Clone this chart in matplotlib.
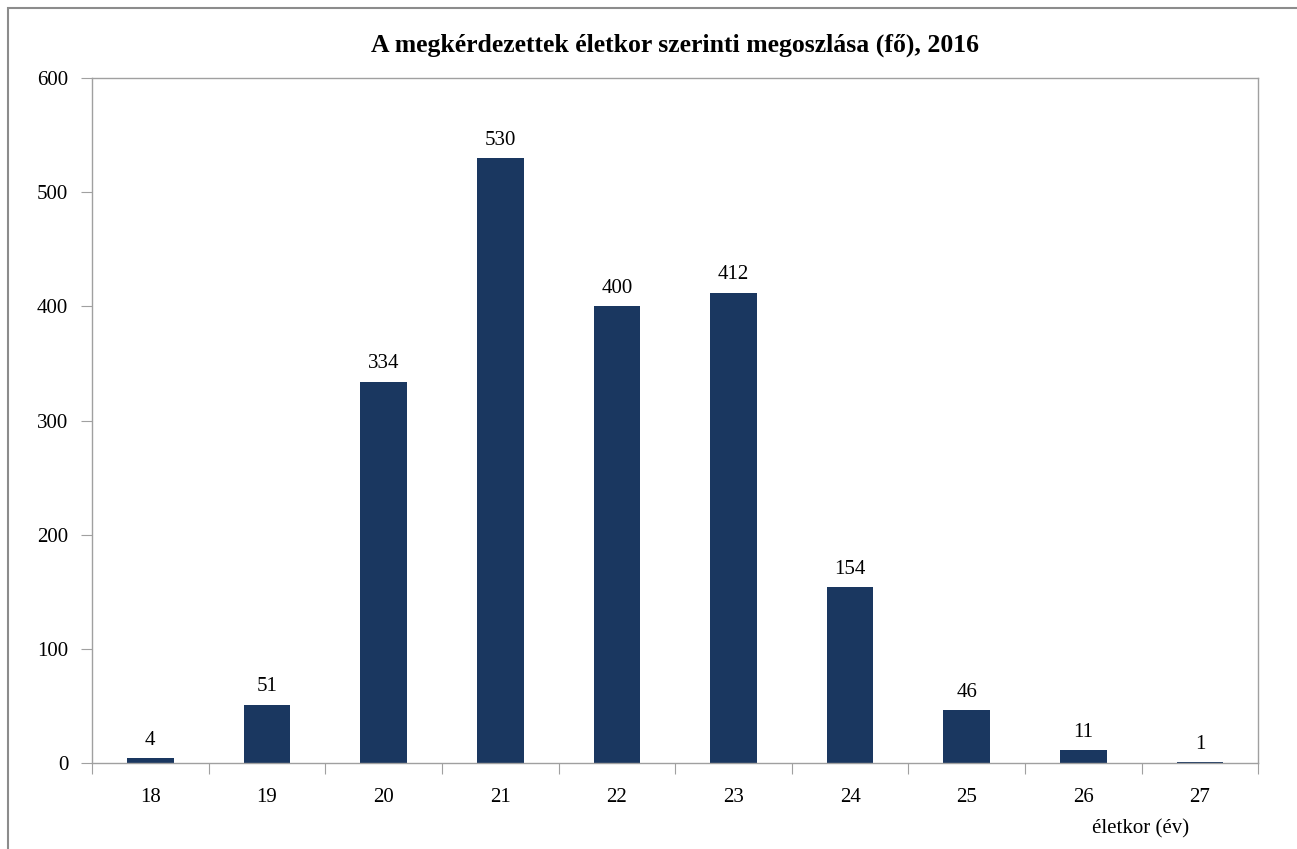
import matplotlib.pyplot as plt
from matplotlib.patches import Rectangle

# Data
ages = ['18', '19', '20', '21', '22', '23', '24', '25', '26', '27']
counts = [4, 51, 334, 530, 400, 412, 154, 46, 11, 1]

plt.rcParams['font.family'] = ['Liberation Serif', 'DejaVu Serif']

fig = plt.figure(figsize=(12.97, 8.49), dpi=100)
ax = fig.add_axes([0.0709, 0.1013, 0.8993, 0.8068])

bar_color = '#1a3760'
x = range(len(ages))
bars = ax.bar(x, counts, width=0.4, color=bar_color)

for xi, v in zip(x, counts):
    ax.annotate(str(v), (xi, v), xytext=(0, 6), textcoords='offset points',
                ha='center', va='bottom', fontsize=15)

ax.set_xlim(-0.5, len(ages) - 0.5)
ax.set_ylim(0, 600)
ax.set_yticks(range(0, 601, 100))
ax.set_xticks([i - 0.5 for i in range(len(ages) + 1)])
ax.set_xticklabels([])
ax.set_xticks(list(x), minor=True)
ax.set_xticklabels(ages, minor=True)
ax.tick_params(axis='x', which='minor', length=0, pad=18, labelsize=15)
ax.tick_params(axis='x', which='major', length=8, color='#a0a0a0')
ax.tick_params(axis='y', length=8, color='#a0a0a0', pad=9, labelsize=15)

for s in ax.spines.values():
    s.set_color('#a0a0a0')
    s.set_linewidth(1)

ax.set_title('A megkérdezettek életkor szerinti megoszlása (fő), 2016',
             fontsize=18.5, fontweight='bold', pad=19)
fig.text(0.879, 0.024, 'életkor (év)', ha='center', va='center', fontsize=15)

# outer frame
fig.patches.append(Rectangle((8 / 1297, -0.01), 1.0, 1 - 8 / 849 + 0.01,
                             transform=fig.transFigure, fill=False,
                             edgecolor='#8c8c8c', linewidth=1.5))

fig.savefig('out.png', dpi=100)
